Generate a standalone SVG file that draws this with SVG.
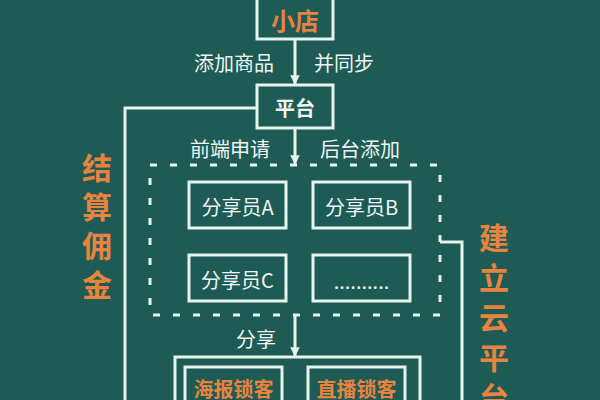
<svg xmlns="http://www.w3.org/2000/svg" width="600" height="400" viewBox="0 0 600 400">
<defs>
<style>
.ln{fill:none;stroke:#e6f4ef;stroke-width:3}
.dash{fill:none;stroke:#e6f4ef;stroke-width:3;stroke-dasharray:7 13}
.t{font-family:"Noto Sans CJK SC","Noto Sans",sans-serif;fill:#eef6f3;font-size:20px;text-anchor:middle;dominant-baseline:central}
.o{fill:#e8843f;font-weight:bold}
.w{font-weight:bold}
.big{font-size:24px}
.vt{font-family:"Noto Sans CJK SC","Noto Sans",sans-serif;fill:#e8843f;font-weight:bold;font-size:30px;writing-mode:vertical-rl;text-anchor:start;dominant-baseline:central}
</style>
<marker id="ah" viewBox="0 0 10 10" refX="9" refY="5" markerWidth="3.2" markerHeight="3.2" orient="auto" markerUnits="strokeWidth">
<path d="M0,0 L10,5 L0,10 z" fill="#e6f4ef"/>
</marker>
</defs>
<rect width="600" height="400" fill="#1d5b54"/>
<g id="connectors">
<line class="ln" x1="295" y1="40" x2="295" y2="84" marker-end="url(#ah)"/>
<line class="ln" x1="295" y1="129" x2="295" y2="164" marker-end="url(#ah)"/>
<line class="ln" x1="295" y1="316" x2="295" y2="356" marker-end="url(#ah)"/>
<polyline class="ln" points="257,108 125,108 125,402"/>
<polyline class="ln" points="440,242 462,242 462,402"/>
<text class="t" x="234" y="62">添加商品</text>
<text class="t" x="344" y="62">并同步</text>
<text class="t" x="230" y="148">前端申请</text>
<text class="t" x="360" y="148">后台添加</text>
<text class="t" x="256" y="338">分享</text>
</g>
<g id="shop">
<rect class="ln" x="257" y="-10" width="76" height="49"/>
<text class="t o big" x="295" y="19">小店</text>
</g>
<g id="platform">
<rect class="ln" x="257" y="85" width="76" height="43"/>
<text class="t w" x="295" y="107">平台</text>
</g>
<g id="sharers">
<rect class="dash" x="150" y="165" width="290" height="150"/>
</g>
<g id="sharerA">
<rect class="ln" x="189" y="182" width="97" height="46"/>
<text class="t" x="237.5" y="206">分享员A</text>
</g>
<g id="sharerB">
<rect class="ln" x="313" y="182" width="97" height="46"/>
<text class="t" x="361.5" y="206">分享员B</text>
</g>
<g id="sharerC">
<rect class="ln" x="189" y="255" width="97" height="46"/>
<text class="t" x="237.5" y="279">分享员C</text>
</g>
<g id="sharerMore">
<rect class="ln" x="313" y="255" width="97" height="46"/>
<text class="t" x="361.5" y="280">..........</text>
</g>
<g id="channels">
<rect class="ln" x="175" y="357" width="245" height="60"/>
</g>
<g id="poster">
<rect class="ln" x="185" y="367" width="97" height="46"/>
<text class="t o" x="233.5" y="388">海报锁客</text>
</g>
<g id="live">
<rect class="ln" x="308" y="367" width="97" height="46"/>
<text class="t o" x="356.5" y="388">直播锁客</text>
</g>
<g id="settle">
<text class="vt" x="97" y="153" style="letter-spacing:9px">结算佣金</text>
</g>
<g id="cloud">
<text class="vt" x="494" y="223" style="letter-spacing:10px">建立云平台</text>
</g>
</svg>
